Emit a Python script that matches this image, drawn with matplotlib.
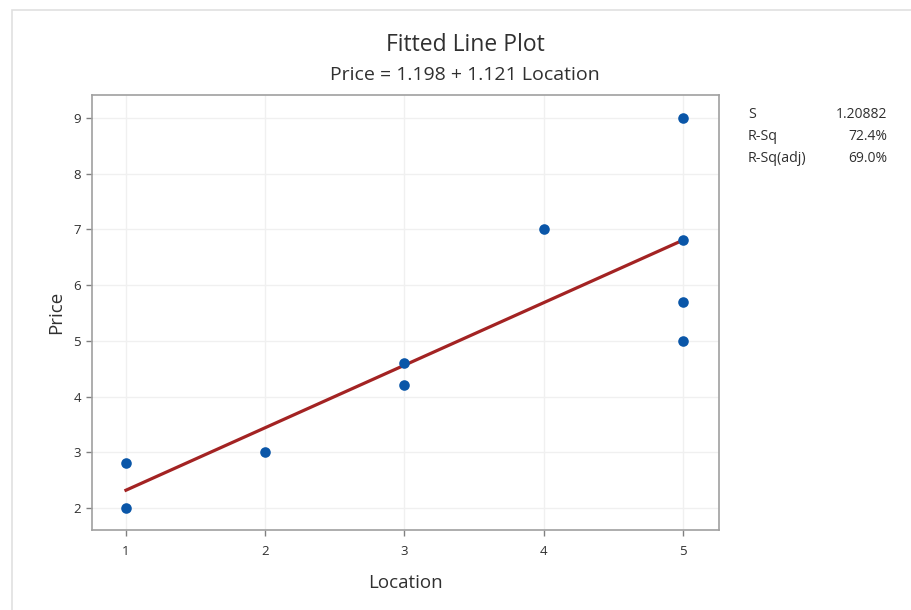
import matplotlib
matplotlib.use("Agg")
import matplotlib.pyplot as plt
import numpy as np
from matplotlib.patches import Rectangle

location = [1, 1, 2, 3, 3, 4, 5, 5, 5, 5]
price = [2.0, 2.8, 3.0, 4.2, 4.6, 7.0, 5.0, 5.7, 6.8, 9.0]
x_ticks = [1, 2, 3, 4, 5]
y_ticks = [2, 3, 4, 5, 6, 7, 8, 9]
stat_names = ["S", "R-Sq", "R-Sq(adj)"]
stat_values = ["1.20882", "72.4%", "69.0%"]

plt.rcParams['font.family'] = ['Open Sans', 'DejaVu Sans']

W, H = 912, 610
fig = plt.figure(figsize=(W / 100, H / 100), dpi=100)

# outer frame
fig.patches.append(Rectangle((12 / W, -0.01), 1.0, 1 - 10 / H + 0.01, transform=fig.transFigure,
                             fill=False, edgecolor='#e0e0e0', linewidth=1.2))

ax = fig.add_axes([92 / W, 1 - 530 / H, (719 - 92) / W, (530 - 95) / H])

slope, intercept = np.polyfit(location, price, 1)
xs = np.array([min(location), max(location)])
ax.plot(xs, intercept + slope * xs, color='#a32323', linewidth=2.3, zorder=3)
ax.scatter(location, price, s=58, color='#0a56a8', zorder=4, linewidths=0)

ax.set_xlim(0.756, 5.26)
ax.set_ylim(1.605, 9.41)
ax.set_xticks(x_ticks)
ax.set_yticks(y_ticks)
ax.grid(True, color='#f0f0f0', linewidth=1)
ax.set_axisbelow(True)
for s in ax.spines.values():
    s.set_color('#a0a0a0')
    s.set_linewidth(1.2)
ax.tick_params(colors='#808080', labelcolor='#303030', labelsize=9.5, length=4.5, width=1)
ax.tick_params(axis='x', pad=6)
ax.set_xlabel("Location", fontsize=13.5, color='#303030', labelpad=12)
ax.set_ylabel("Price", fontsize=13.5, color='#303030', labelpad=6)

fig.text(465 / W, 1 - 45 / H, "Fitted Line Plot", ha='center', va='center', fontsize=16.5, color='#303030')
fig.text(465 / W, 1 - 75 / H, f"Price = {intercept:.3f} + {slope:.3f} Location", ha='center', va='center',
         fontsize=14, color='#303030')

for i, (n, v) in enumerate(zip(stat_names, stat_values)):
    y = 1 - (115 + 22 * i) / H
    fig.text(748 / W, y, n, ha='left', va='center', fontsize=10.3, color='#303030')
    fig.text(887 / W, y, v, ha='right', va='center', fontsize=10, color='#303030')

fig.savefig("out.png", dpi=100)
